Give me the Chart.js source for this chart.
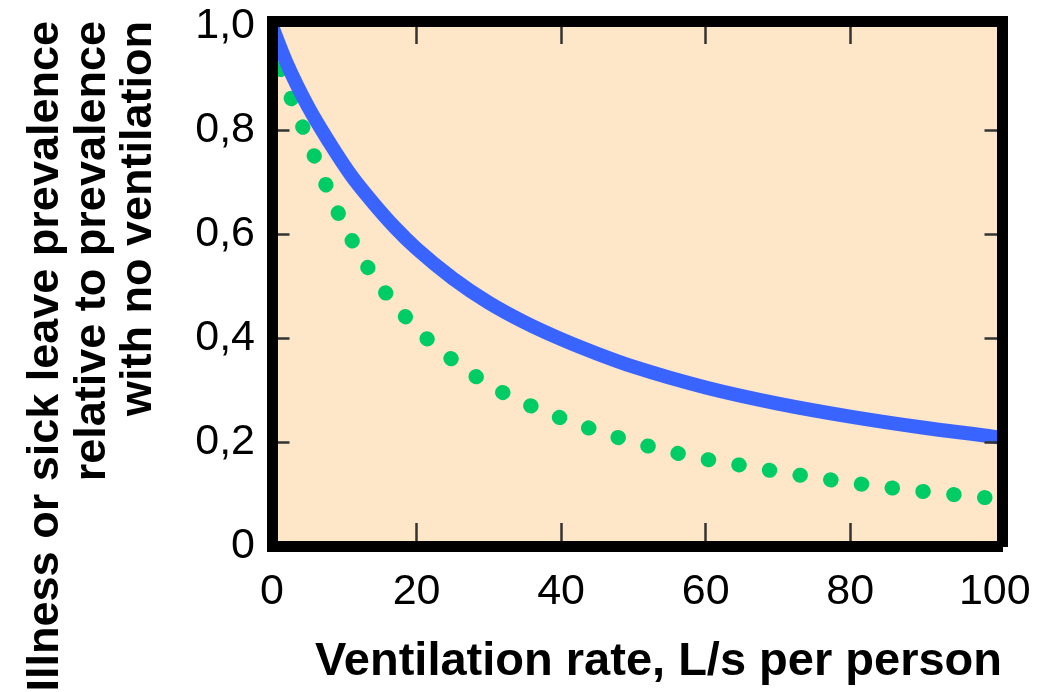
<!DOCTYPE html>
<html>
<head>
<meta charset="utf-8">
<script src="https://cdn.jsdelivr.net/npm/chart.js@4.4.1/dist/chart.umd.min.js"></script>
<style>
html,body{margin:0;padding:0;background:#ffffff;}
#wrap{width:1040px;height:692px;position:relative;}
</style>
</head>
<body>
<div id="wrap"><canvas id="c" width="1040" height="692"></canvas></div>
<script>
// ---- data ----
const blueX = [0, 2, 5, 8, 11, 14, 17, 20, 25, 30, 35, 40, 45, 50, 60, 70, 80, 90, 100, 101];
const blueY = [1.0, 0.93, 0.845, 0.775, 0.712, 0.66, 0.613, 0.572, 0.515, 0.468, 0.43, 0.398, 0.37, 0.345, 0.305, 0.274, 0.249, 0.228, 0.21, 0.208];

const greenX = [0, 2, 4, 6, 8, 10, 12, 14, 17, 20, 23, 27, 30, 34, 38, 42, 46, 50, 55, 60, 65, 70, 75, 80, 85, 90, 95, 100, 101];
const greenY = [0.965, 0.885, 0.815, 0.745, 0.677, 0.616, 0.565, 0.52, 0.465, 0.418, 0.38, 0.338, 0.31, 0.281, 0.257, 0.236, 0.217, 0.2, 0.182, 0.167, 0.155, 0.143, 0.132, 0.122, 0.113, 0.105, 0.098, 0.091, 0.089];

const xTickValues = [0, 20, 40, 60, 80, 100];
const xTickLabels = ['0', '20', '40', '60', '80', '100'];
const yTickValues = [0, 0.2, 0.4, 0.6, 0.8, 1.0];
const yTickLabels = ['0', '0,2', '0,4', '0,6', '0,8', '1,0'];

const xTitle = 'Ventilation rate, L/s per person';
const yTitle = ['Illness or sick leave prevalence', 'relative to prevalence', 'with no ventilation'];

// ---- chart ----
const FONT = "'Liberation Sans', Arial, Helvetica, sans-serif";
const toPts = (xs, ys) => xs.map((x, i) => ({x: x, y: ys[i]}));
const labelFor = (vals, labels) => (v) => {
  const i = vals.findIndex(t => Math.abs(t - v) < 1e-6);
  return i >= 0 ? labels[i] : '';
};
const frame = {display: true, width: 11, color: '#000000', z: 2};
const hideEdge = (lo, hi) => (ctx) => {
  const v = ctx.tick ? ctx.tick.value : 0;
  return (v <= lo + 1e-6 || v >= hi - 1e-6) ? 'rgba(0,0,0,0)' : '#333333';
};
const fixSize = (prop, size) => (s) => {
  s[prop] = size;
  s.paddingLeft = 0; s.paddingRight = 0; s.paddingTop = 0; s.paddingBottom = 0;
};

const bgPlugin = {
  id: 'bg',
  beforeDraw(chart) {
    const {ctx, chartArea: a} = chart;
    ctx.save();
    ctx.fillStyle = '#FEE6C9';
    ctx.fillRect(a.left, a.top, a.right - a.left, a.bottom - a.top);
    ctx.restore();
  }
};

const gridOpts = (len, lo, hi) => ({
  drawOnChartArea: false, drawTicks: true, tickLength: len, tickWidth: 2.5,
  tickColor: hideEdge(lo, hi), z: 1
});

new Chart(document.getElementById('c'), {
  type: 'line',
  data: {
    datasets: [
      {
        data: toPts(blueX, blueY),
        xAxisID: 'x', yAxisID: 'y',
        borderColor: '#3A64FF',
        borderWidth: 14,
        pointRadius: 0,
        fill: false,
        cubicInterpolationMode: 'monotone'
      },
      {
        data: toPts(greenX, greenY),
        xAxisID: 'x', yAxisID: 'y',
        borderColor: '#00CC66',
        borderWidth: 15,
        borderDash: [0.5, 30.5],
        borderDashOffset: 5,
        borderCapStyle: 'round',
        pointRadius: 0,
        fill: false,
        cubicInterpolationMode: 'monotone'
      }
    ]
  },
  options: {
    responsive: false,
    animation: false,
    events: [],
    layout: {padding: 0, autoPadding: false},
    plugins: {legend: {display: false}, tooltip: {enabled: false}},
    scales: {
      x: {
        type: 'linear', position: 'bottom', min: 0, max: 101, bounds: 'data',
        border: frame,
        grid: gridOpts(-23, 0, 100),
        ticks: {stepSize: 20, includeBounds: false, autoSkip: false, maxRotation: 0, padding: 43,
                color: '#000', font: {family: FONT, size: 43},
                callback: labelFor(xTickValues, xTickLabels)},
        title: {display: true, text: xTitle, align: 'end', color: '#000',
                font: {family: FONT, size: 47, weight: 'bold', lineHeight: 1},
                padding: {top: 0, bottom: 6}},
        afterFit: fixSize('height', 146)
      },
      x2: {
        type: 'linear', position: 'top', min: 0, max: 101, bounds: 'data',
        border: frame,
        grid: gridOpts(-23, 0, 100),
        ticks: {display: false, stepSize: 20, includeBounds: false},
        afterFit: fixSize('height', 21)
      },
      y: {
        type: 'linear', position: 'left', min: 0, max: 1.01, bounds: 'data',
        border: frame,
        grid: gridOpts(-17.5, 0, 1),
        ticks: {stepSize: 0.2, includeBounds: false, autoSkip: false, padding: 34.5,
                color: '#000', font: {family: FONT, size: 43},
                callback: labelFor(yTickValues, yTickLabels)},
        title: {display: true, text: yTitle, align: 'end', color: '#000',
                font: {family: FONT, size: 45, weight: 'bold', lineHeight: 1.03},
                padding: {top: 22.8, bottom: 0}},
        afterFit: fixSize('width', 272)
      },
      y2: {
        type: 'linear', position: 'right', min: 0, max: 1.01, bounds: 'data',
        border: frame,
        grid: gridOpts(-17.5, 0, 1),
        ticks: {display: false, stepSize: 0.2, includeBounds: false},
        afterFit: fixSize('width', 38)
      }
    }
  },
  plugins: [bgPlugin]
});
</script>
</body>
</html>
